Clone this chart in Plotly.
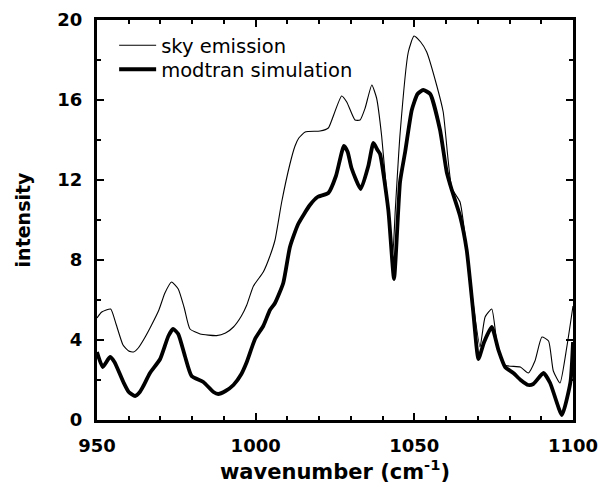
import plotly.graph_objects as go

# Measured sky emission spectrum
sky_wn = [950, 951.5, 954.3, 956, 958.2, 960, 961.5, 963, 965, 967.2, 969.5, 971.4,
          973.5, 975.6, 977.5, 979.3, 982.5, 987.7, 990.5, 993, 995.5, 997.2, 999.3,
          1002.4, 1004.5, 1006.1, 1008.2, 1010.8, 1012.4, 1013.6, 1015.6, 1020.3,
          1022.9, 1024, 1027.1, 1028.7, 1031.3, 1032.9, 1034.5, 1036.6, 1038.1,
          1039.7, 1041.5, 1043.2, 1044, 1045.5, 1048.1, 1049.9, 1052, 1053.9, 1057.1,
          1059.1, 1061.8, 1064.4, 1066, 1068, 1070.7, 1072.3, 1074.4, 1076, 1078.1,
          1083.4, 1085.9, 1088, 1090.2, 1092.3, 1093.8, 1095.9, 1098, 1100]
sky_int = [5.1, 5.4, 5.55, 4.8, 3.75, 3.45, 3.4, 3.6, 4.1, 4.75, 5.5, 6.35,
           6.9, 6.55, 5.6, 4.55, 4.3, 4.22, 4.35, 4.65, 5.2, 5.75, 6.7,
           7.4, 8.2, 9.0, 10.9, 12.8, 13.7, 14.1, 14.4, 14.45,
           14.6, 15.0, 16.2, 15.9, 15.0, 15.0, 15.6, 16.75, 16.1,
           14.2, 11.0, 8.3, 10.5, 14.3, 18.4, 19.2, 18.9, 18.4, 16.7,
           15.4, 11.6, 10.9, 9.2, 6.5, 3.65, 5.15, 5.55, 3.9, 2.75,
           2.65, 2.35, 2.95, 4.15, 3.95, 2.45, 1.85, 3.6, 5.7]

# MODTRAN model spectrum
mod_wn = [950, 951.8, 954.1, 955.5, 958.3, 960, 962, 963.5, 964.6, 966.7, 969.9,
          972.5, 974, 975.6, 977.7, 979.8, 983.5, 986.7, 988.2, 990.5, 993, 995.5,
          997.2, 999.8, 1002.4, 1004.5, 1006.1, 1008.7, 1010.8, 1013.4, 1017.1,
          1019.5, 1022.9, 1025.3, 1027.8, 1029.0, 1030.2, 1033.1, 1035.5, 1037.1,
          1038.4, 1039.2, 1041.8, 1043.6, 1045.5, 1047.1, 1049.2, 1051, 1052.8,
          1055, 1058.1, 1060.2, 1061.8, 1064.4, 1066.5, 1068.5, 1070.2, 1072,
          1074.4, 1076.5, 1078.6, 1081.2, 1083.5, 1085.9, 1087.5, 1090.7, 1092.8,
          1096.5, 1099.2, 1100]
mod_int = [3.4, 2.65, 3.15, 2.9, 1.9, 1.4, 1.2, 1.4, 1.7, 2.35, 3.05,
           4.2, 4.55, 4.3, 3.2, 2.2, 1.9, 1.4, 1.3, 1.45, 1.75, 2.3,
           2.9, 4.05, 4.7, 5.5, 5.85, 6.85, 8.65, 9.8, 10.75,
           11.15, 11.35, 12.2, 13.7, 13.4, 12.6, 11.55, 12.7, 13.85,
           13.5, 13.3, 10.5, 7.05, 11.9, 13.4, 15.5, 16.3, 16.5,
           16.3, 14.5, 12.4, 11.5, 10.2, 8.5, 5.5, 3.05, 3.9,
           4.65, 3.5, 2.65, 2.35, 2.0, 1.75, 1.8, 2.35, 1.85,
           0.25, 1.9, 3.9]

# Tick spacing: labelled steps and unlabelled minor steps
x_major, x_minor = 50, 10
y_major, y_minor = 4, 2

fig = go.Figure()
fig.add_trace(go.Scatter(x=sky_wn, y=sky_int, mode="lines", name="sky emission",
                         legend="legend",
                         line=dict(color="black", width=1.1, shape="spline", smoothing=0.5)))
fig.add_trace(go.Scatter(x=mod_wn, y=mod_int, mode="lines", name="modtran simulation",
                         legend="legend2",
                         line=dict(color="black", width=3.8, shape="spline", smoothing=0.5)))

tickfont = dict(family="DejaVu Sans", size=18, color="black", weight="bold")
axis_common = dict(showline=True, linewidth=3, linecolor="black", mirror="allticks",
                   ticks="inside", ticklen=7, tickwidth=2, tickcolor="black",
                   showgrid=False, zeroline=False, tickfont=tickfont, layer="above traces",
                   automargin=False)

fig.update_xaxes(range=[950, 1100], tickmode="linear", tick0=950, dtick=x_major,
                 minor=dict(tickmode="linear", dtick=x_minor, ticks="inside", ticklen=4,
                            tickwidth=2, tickcolor="black", showgrid=False),
                 ticklabelstandoff=7,
                 title=dict(text="wavenumber (cm<sup>-1</sup>)", standoff=10,
                            font=dict(family="DejaVu Sans", size=21, color="black", weight="bold")),
                 **axis_common)
fig.update_yaxes(range=[0, 20], tickmode="linear", tick0=0, dtick=y_major,
                 minor=dict(tickmode="linear", dtick=y_minor, ticks="inside", ticklen=4,
                            tickwidth=2, tickcolor="black", showgrid=False),
                 ticklabelstandoff=8,
                 title=dict(text="intensity", standoff=22,
                            font=dict(family="DejaVu Sans", size=19, color="black", weight="bold")),
                 **axis_common)

legend_style = dict(xanchor="left", yanchor="middle", bgcolor="rgba(0,0,0,0)",
                    borderwidth=0, itemwidth=37,
                    font=dict(family="DejaVu Sans", size=19.5, color="black"))

fig.update_layout(
    width=614, height=487,
    margin=dict(l=97, r=41, t=20, b=67),
    paper_bgcolor="white", plot_bgcolor="white",
    showlegend=True,
    legend=dict(x=0.036, y=0.936, **legend_style),
    legend2=dict(x=0.036, y=0.876, **legend_style),
)

fig.write_html("out.html")
